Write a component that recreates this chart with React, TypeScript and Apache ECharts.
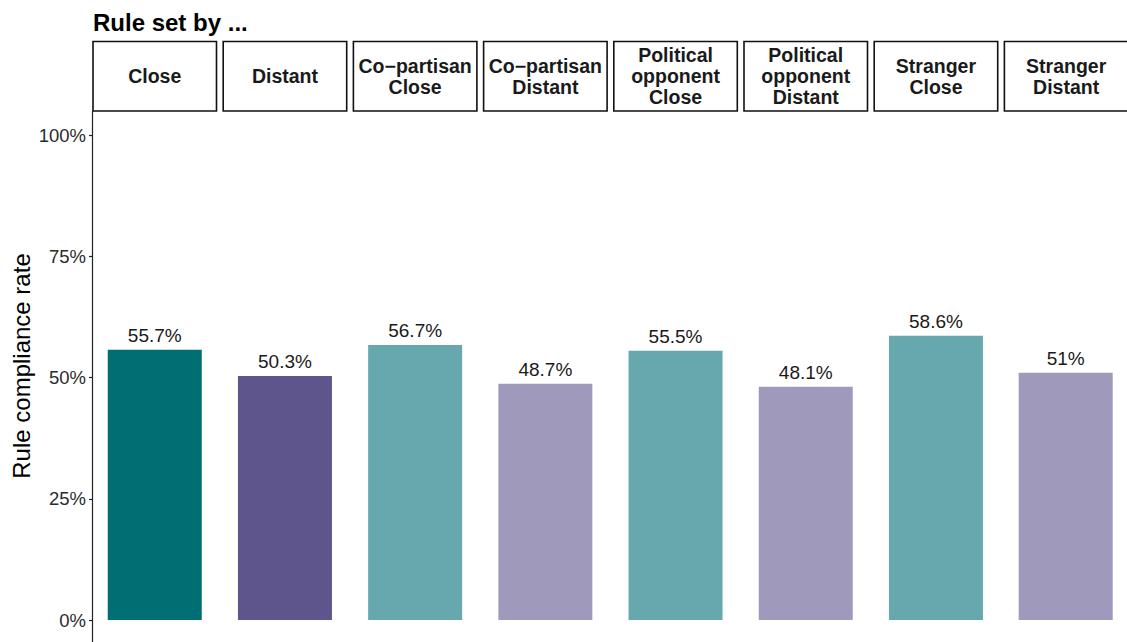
import React, { useEffect, useRef } from "react";
import * as echarts from "echarts";

const panelLabels = [
  "Close",
  "Distant",
  "Co\u2212partisan\nClose",
  "Co\u2212partisan\nDistant",
  "Political\nopponent\nClose",
  "Political\nopponent\nDistant",
  "Stranger\nClose",
  "Stranger\nDistant",
];
const complianceRates = [55.7, 50.3, 56.7, 48.7, 55.5, 48.1, 58.6, 51];
const barColors = ["#016e73", "#5f558d", "#67a8ae", "#9f9abb", "#67a8ae", "#9f9abb", "#67a8ae", "#9f9abb"];
const yMin = 0;
const yMax = 100;
const yInterval = 25;
const titleText = "Rule set by ...";
const yAxisTitle = "Rule compliance rate";

const FONT = "'Liberation Sans', Arial, Helvetica, sans-serif";
const W = 1127;
const H = 642;
const PANEL_LEFT = 93;
const PANEL_W = 123.5;
const PANEL_STEP = 130.2;
const PLOT_TOP = 135;
const PLOT_BOTTOM = 22;
const STRIP_TOP = 41.5;
const STRIP_BOTTOM = 111;

export default function App() {
  const ref = useRef<HTMLDivElement>(null);
  useEffect(() => {
    if (!ref.current) return;
    const chart = echarts.init(ref.current, undefined, { renderer: "svg" });
    const n = panelLabels.length;
    const grids: any[] = [];
    const xAxes: any[] = [];
    const yAxes: any[] = [];
    const series: any[] = [];
    const graphics: any[] = [];
    for (let i = 0; i < n; i++) {
      const left = PANEL_LEFT + i * PANEL_STEP;
      grids.push({ left, width: PANEL_W, top: PLOT_TOP, bottom: PLOT_BOTTOM, containLabel: false });
      xAxes.push({
        type: "category",
        gridIndex: i,
        data: [panelLabels[i]],
        show: false,
      });
      yAxes.push({
        type: "value",
        gridIndex: i,
        min: yMin,
        max: yMax,
        interval: yInterval,
        show: i === 0,
        axisLine: { show: false },
        axisTick: { show: i === 0, length: 4, lineStyle: { color: "#222", width: 1.2 } },
        axisLabel: {
          show: i === 0,
          formatter: (v: number) => `${v}%`,
          fontSize: 18.5,
          color: "#2b2b2b",
          fontFamily: FONT,
          margin: 7,
        },
        splitLine: { show: false },
      });
      series.push({
        type: "bar",
        xAxisIndex: i,
        yAxisIndex: i,
        data: [complianceRates[i]],
        barWidth: 94,
        itemStyle: { color: barColors[i] },
        label: {
          show: true,
          position: "top",
          distance: 5,
          formatter: (p: any) => `${p.value}%`,
          fontSize: 19,
          color: "#1a1a1a",
          fontFamily: FONT,
        },
      });
      graphics.push({
        type: "rect",
        shape: { x: left, y: STRIP_TOP, width: PANEL_W, height: STRIP_BOTTOM - STRIP_TOP },
        style: { fill: "#ffffff", stroke: "#111", lineWidth: 1.6 },
        z: 10,
      });
      graphics.push({
        type: "text",
        x: left + PANEL_W / 2,
        y: (STRIP_TOP + STRIP_BOTTOM) / 2,
        style: {
          text: panelLabels[i],
          font: `bold 19.5px ${FONT}`,
          fill: "#1a1a1a",
          align: "center",
          verticalAlign: "middle",
          lineHeight: 21,
        },
        z: 11,
      });
    }
    graphics.push({
      type: "line",
      shape: { x1: PANEL_LEFT - 0.5, y1: STRIP_BOTTOM, x2: PANEL_LEFT - 0.5, y2: H },
      style: { stroke: "#222", lineWidth: 1.2 },
      z: 5,
    });
    graphics.push({
      type: "text",
      x: PANEL_LEFT,
      y: 34,
      style: {
        text: titleText,
        font: `bold 24px ${FONT}`,
        fill: "#000",
        align: "left",
        verticalAlign: "bottom",
      },
    });
    graphics.push({
      type: "text",
      x: 21,
      y: 366,
      rotation: Math.PI / 2,
      style: {
        text: yAxisTitle,
        font: `24px ${FONT}`,
        fill: "#000",
        align: "center",
        verticalAlign: "middle",
      },
    });
    chart.setOption({
      animation: false,
      backgroundColor: "#ffffff",
      grid: grids,
      xAxis: xAxes,
      yAxis: yAxes,
      series,
      graphic: graphics,
    });
    return () => chart.dispose();
  }, []);
  return (
    <div
      ref={ref}
      style={{ position: "absolute", left: 0, top: 0, width: W, height: H }}
    />
  );
}
